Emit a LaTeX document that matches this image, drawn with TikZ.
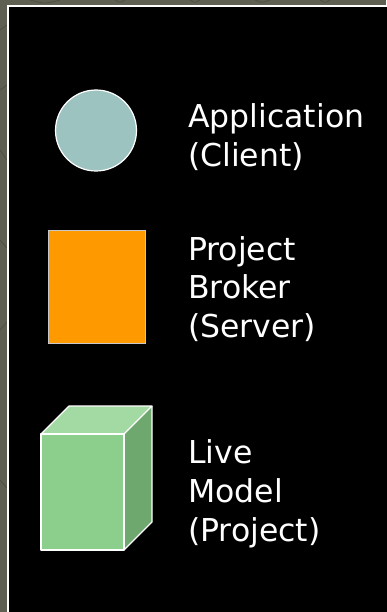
\documentclass[tikz,border=0pt]{standalone}
\usepackage{fontspec}
\setmainfont{DejaVu Sans}
\definecolor{bgolive}{RGB}{95,96,82}
\definecolor{bgline}{RGB}{78,80,68}
\definecolor{clientfill}{RGB}{157,195,193}
\definecolor{serverfill}{RGB}{255,153,0}
\definecolor{cubefront}{RGB}{140,206,140}
\definecolor{cubetop}{RGB}{163,217,163}
\definecolor{cubeside}{RGB}{111,168,111}
\tikzset{
  lbl/.style={anchor=base west, inner sep=0pt, text=white, font=\fontsize{31.5}{38}\selectfont},
  edge/.style={draw=white, line width=1.2pt, line join=round},
}
\begin{document}
\begin{tikzpicture}[x=1pt,y=-1pt]
\useasboundingbox (0,0) rectangle (386,612);
% background
\fill[bgolive] (0,0) rectangle (386,612);
\draw[bgline, line width=0.8pt] (30,0) .. controls (45,4) .. (60,0);
\draw[bgline, line width=0.8pt] (115,0) .. controls (120,3) .. (125,0);
\draw[bgline, line width=0.8pt] (190,0) .. controls (195,3) .. (200,0);
\draw[bgline, line width=0.8pt] (255,0) .. controls (262,3) .. (270,0);
\draw[bgline, line width=0.8pt] (320,0) .. controls (325,3) .. (330,0);
\draw[bgline, line width=0.8pt] (0,30) -- (7,25);
\draw[bgline, line width=0.8pt] (0,90) -- (7,85);
\draw[bgline, line width=0.8pt] (0,150) -- (7,160);
\draw[bgline, line width=0.8pt] (0,240) -- (7,248);
\draw[bgline, line width=0.8pt] (0,330) -- (7,322);
\draw[bgline, line width=0.8pt] (0,480) -- (7,488);
% panel
\fill[black] (8,6) rectangle (390,616);
\draw[white, line width=1.6pt] (8,616) -- (8,6) -- (390,6);
% client
\node[circle, minimum size=81pt, inner sep=0pt, fill=clientfill, draw=white, line width=1.2pt] (client) at (96,130.5) {};
\node[lbl] (clientA) at (188,128) {Application};
\node[lbl] (clientB) at (188,166.5) {(Client)};
% server
\node[rectangle, minimum width=97pt, minimum height=113pt, inner sep=0pt, fill=serverfill, draw={rgb,255:red,200;green,200;blue,200}, line width=0.9pt] (server) at (96.5,286.5) {};
\node[lbl] (serverA) at (188,260) {Project};
\node[lbl] (serverB) at (188,298.5) {Broker};
\node[lbl] (serverC) at (188,337) {(Server)};
% cube
\coordinate (fA) at (41,434);
\coordinate (fB) at (124,434);
\coordinate (fC) at (124,550);
\coordinate (fD) at (41,550);
\coordinate (bA) at (69,406);
\coordinate (bB) at (152,406);
\coordinate (bC) at (152,522);
\fill[cubefront] (fA) -- (fB) -- (fC) -- (fD) -- cycle;
\fill[cubetop] (fA) -- (bA) -- (bB) -- (fB) -- cycle;
\fill[cubeside] (fB) -- (bB) -- (bC) -- (fC) -- cycle;
\draw[edge] (fA) -- (fB) -- (fC) -- (fD) -- cycle;
\draw[edge] (fA) -- (bA) -- (bB) -- (fB);
\draw[edge] (bB) -- (bC) -- (fC);
\node[lbl] (modelA) at (188,463) {Live};
\node[lbl] (modelB) at (188,502) {Model};
\node[lbl] (modelC) at (188,541) {(Project)};
\end{tikzpicture}
\end{document}
